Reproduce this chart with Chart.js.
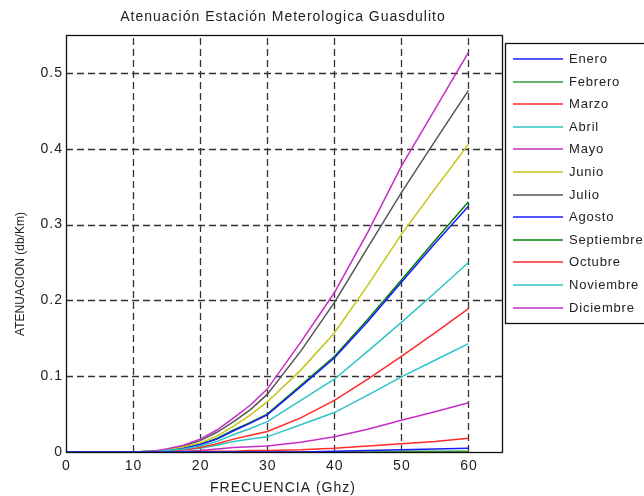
<!DOCTYPE html>
<html><head><meta charset="utf-8">
<script src="https://cdn.jsdelivr.net/npm/chart.js@4/dist/chart.umd.min.js"></script>
<style>html,body{margin:0;padding:0;background:#fff}#wrap{width:644px;height:496px;position:relative}</style>
</head><body><div id="wrap"><canvas id="c" width="644" height="496"></canvas></div>
<script>
const freqs = [0,10,13,15,17.5,20,22.5,25,27.5,30,35,40,45,50,55,60];
const months = ["Enero","Febrero","Marzo","Abril","Mayo","Junio","Julio","Agosto","Septiembre","Octubre","Noviembre","Diciembre"];
const enero      = [0,0,0,0,0,0,0,0,0,0,0,0.001,0.002,0.003,0.004,0.005];
const febrero    = [0,0,0,0,0,0,0,0,0,0,0,0,0,0.001,0.001,0.001];
const marzo      = [0,0,0,0,0,0.001,0.001,0.001,0.002,0.002,0.003,0.005,0.008,0.011,0.014,0.018];
const abril      = [0,0,0,0.002,0.004,0.008,0.014,0.023,0.031,0.040,0.068,0.096,0.133,0.171,0.210,0.250];
const mayo       = [0,0,0.001,0.004,0.009,0.017,0.029,0.045,0.062,0.083,0.145,0.210,0.290,0.377,0.452,0.527];
const junio      = [0,0,0.001,0.003,0.007,0.012,0.021,0.034,0.049,0.066,0.108,0.157,0.220,0.287,0.347,0.406];
const julio      = [0,0,0.001,0.003,0.008,0.015,0.026,0.040,0.056,0.076,0.133,0.197,0.270,0.342,0.410,0.477];
const agosto     = [0,0,0.001,0.002,0.005,0.010,0.017,0.028,0.038,0.049,0.086,0.124,0.172,0.224,0.275,0.324];
const septiembre = [0,0,0.001,0.002,0.005,0.010,0.018,0.029,0.039,0.050,0.088,0.126,0.175,0.227,0.279,0.330];
const octubre    = [0,0,0,0.001,0.003,0.006,0.011,0.017,0.022,0.027,0.045,0.068,0.096,0.126,0.157,0.189];
const noviembre  = [0,0,0,0.001,0.003,0.005,0.009,0.014,0.017,0.020,0.036,0.052,0.075,0.099,0.121,0.143];
const diciembre  = [0,0,0,0,0.001,0.002,0.004,0.006,0.007,0.008,0.013,0.020,0.030,0.042,0.053,0.065];
const series = [enero,febrero,marzo,abril,mayo,junio,julio,agosto,septiembre,octubre,noviembre,diciembre];
const colors = ["#1a1aff","#3a993a","#ff2a2a","#2ec4c4","#c42ec4","#c4c41a","#555555","#1a1aff","#008000","#ff2a2a","#2ec4c4","#c42ec4"];
const yTicks = [0,0.1,0.2,0.3,0.4,0.5];
const xTicks = [0,10,20,30,40,50,60];
const titleText = 'Atenuación Estación Meterologica Guasdulito';
const xTitle = 'FRECUENCIA (Ghz)';
const yTitle = 'ATENUACION (db/Km)';
const FONT = "'Liberation Sans', Arial, sans-serif";

const datasets = months.map((m,i)=>({
  label:m,
  data: freqs.map((f,j)=>({x:f,y:series[i][j]})),
  borderColor:colors[i], backgroundColor:colors[i],
  borderWidth:1.5, pointRadius:0, tension:0, fill:false
}));

const deco = {
  id:'deco',
  beforeDatasetsDraw(chart){
    const ctx=chart.ctx, a=chart.chartArea, xs=chart.scales.x, ys=chart.scales.y;
    ctx.save();
    ctx.strokeStyle='#333'; ctx.lineWidth=1.3; ctx.setLineDash([7,4]);
    xTicks.forEach(v=>{ if(v===0) return; const px=Math.round(xs.getPixelForValue(v))+0.5;
      ctx.beginPath(); ctx.moveTo(px,a.bottom); ctx.lineTo(px,a.top); ctx.stroke(); });
    yTicks.forEach(v=>{ if(v===0) return; const py=Math.round(ys.getPixelForValue(v))+0.5;
      ctx.beginPath(); ctx.moveTo(a.left,py); ctx.lineTo(a.right,py); ctx.stroke(); });
    ctx.restore();
  },
  afterDraw(chart){
    const ctx=chart.ctx, a=chart.chartArea, xs=chart.scales.x, ys=chart.scales.y;
    ctx.save();
    ctx.strokeStyle='#111'; ctx.lineWidth=1.3;
    ctx.strokeRect(Math.round(a.left)+0.5, Math.round(a.top)+0.5, Math.round(a.right-a.left), Math.round(a.bottom-a.top));
    ctx.fillStyle='#222';
    ctx.textBaseline='middle';
    ctx.font='14px '+FONT; ctx.letterSpacing='1px';
    ctx.textAlign='center';
    ctx.fillText(titleText, 283, 17);
    ctx.fillText(xTitle, 283, 488);
    xTicks.forEach(v=>ctx.fillText(String(v), xs.getPixelForValue(v)+0.5, 466));
    ctx.textAlign='right';
    yTicks.forEach(v=>ctx.fillText(String(v), 63, ys.getPixelForValue(v)));
    ctx.letterSpacing='0px';
    ctx.font='12px '+FONT; ctx.textAlign='center';
    ctx.save(); ctx.translate(21, 274); ctx.rotate(-Math.PI/2);
    ctx.fillText(yTitle, 0, 0); ctx.restore();
    const lx=505, ly=43, lh=280;
    ctx.fillStyle='#fff'; ctx.fillRect(lx,ly,200,lh);
    ctx.strokeStyle='#111'; ctx.lineWidth=1.3; ctx.strokeRect(lx+0.5,ly+0.5,200,lh);
    ctx.textAlign='left';
    ctx.font='13px '+FONT; ctx.letterSpacing='0.8px';
    chart.data.datasets.forEach((d,i)=>{
      const y=Math.round(59+i*22.6);
      ctx.strokeStyle=d.borderColor; ctx.lineWidth=1.6;
      ctx.beginPath(); ctx.moveTo(513,y); ctx.lineTo(563,y); ctx.stroke();
      ctx.fillStyle='#222';
      ctx.fillText(d.label, 569, y);
    });
    ctx.restore();
  }
};

new Chart(document.getElementById('c'),{
  type:'line',
  data:{datasets},
  options:{
    responsive:false, animation:false,
    layout:{padding:{top:35,right:142,left:0,bottom:0}},
    plugins:{legend:{display:false},title:{display:false},tooltip:{enabled:false}},
    scales:{
      x:{type:'linear',min:0,max:65,
        afterBuildTicks:s=>{s.ticks=xTicks.map(v=>({value:v}));},
        afterFit:s=>{s.height=44;},
        grid:{display:false}, border:{display:false},
        ticks:{display:false}
      },
      y:{type:'linear',min:0,max:0.55,
        afterBuildTicks:s=>{s.ticks=yTicks.map(v=>({value:v}));},
        afterFit:s=>{s.width=66;},
        grid:{display:false}, border:{display:false},
        ticks:{display:false}
      }
    }
  },
  plugins:[deco]
});
</script></body></html>
